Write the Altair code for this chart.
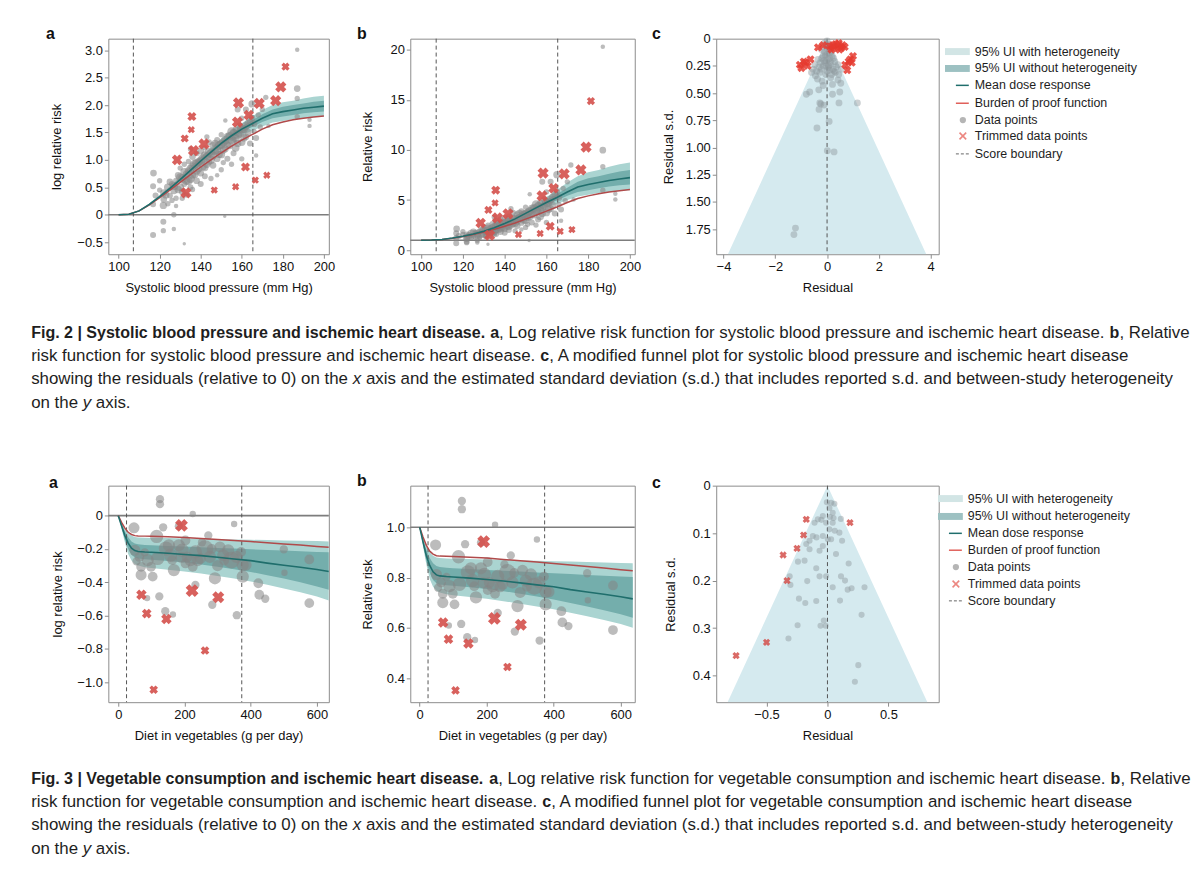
import altair as alt
import pandas as pd

FONT = "Liberation Sans"
TEAL = "#1f6e6c"
RED_LINE = "#b04a4a"
OUTER = "#aad4d1"
INNER = "#74aeac"
LEG_OUTER = "#d2e5e5"
LEG_INNER = "#9dc1c2"
GRAY = "#858585"
RED_X = "#d4504b"
RED_X_C = "#e5392f"
FUNNEL = "#d5eaef"
DASH = "#555555"
REF = "#7d7d7d"

# ---------------- Fig. 2: systolic blood pressure ----------------
sbp_grid = [100, 105, 110, 115, 120, 125, 130, 135, 140, 145, 150, 155, 160, 165, 170, 175, 180, 185, 190, 195, 200]
sbp_mean = [0, 0.01, 0.07, 0.19, 0.33, 0.48, 0.64, 0.81, 0.98, 1.14, 1.30, 1.44, 1.56, 1.66, 1.76, 1.84, 1.88, 1.91, 1.94, 1.96, 1.98]
sbp_bop = [0, 0.01, 0.07, 0.18, 0.31, 0.45, 0.59, 0.73, 0.87, 1.00, 1.13, 1.25, 1.36, 1.46, 1.56, 1.64, 1.69, 1.73, 1.76, 1.78, 1.80]
sbp_outer_lo = [0, 0.01, 0.06, 0.17, 0.30, 0.44, 0.59, 0.75, 0.91, 1.06, 1.21, 1.34, 1.45, 1.53, 1.61, 1.68, 1.71, 1.74, 1.76, 1.78, 1.79]
sbp_outer_hi = [0, 0.01, 0.08, 0.21, 0.36, 0.52, 0.69, 0.87, 1.05, 1.22, 1.39, 1.54, 1.67, 1.79, 1.91, 2.00, 2.05, 2.08, 2.12, 2.15, 2.17]
sbp_inner_lo = [0, 0.01, 0.07, 0.18, 0.32, 0.46, 0.62, 0.79, 0.95, 1.11, 1.27, 1.40, 1.51, 1.60, 1.69, 1.76, 1.79, 1.82, 1.85, 1.87, 1.88]
sbp_inner_hi = [0, 0.01, 0.07, 0.20, 0.34, 0.50, 0.66, 0.83, 1.01, 1.17, 1.33, 1.48, 1.61, 1.72, 1.83, 1.92, 1.97, 2.00, 2.03, 2.06, 2.08]
sbp_boundaries = [107.2, 165.4]

# (systolic bp, log RR, weight)
sbp_points = [
    (117.0, 0.76, 5), (116.8, 0.52, 4), (116.8, 0.19, 4), (116.8, -0.37, 4), (121.8, 0.17, 6),
    (121.8, -0.13, 4), (121.8, -0.29, 3), (126.9, 0.00, 3), (126.9, -0.26, 2), (132.0, -0.53, 1),
    (151.7, -0.03, 1), (187.0, 3.01, 2), (187.0, 2.30, 5), (187.0, 2.12, 3), (187.0, 1.79, 3),
    (193.0, 1.73, 2), (193.0, 1.62, 2), (171.7, 2.14, 3), (165.0, 2.02, 6), (118, 0.35, 4),
    (120, 0.45, 3), (122, 0.40, 6), (124, 0.50, 7), (125, 0.35, 4), (126, 0.56, 4),
    (127, 0.44, 6), (128, 0.62, 4), (128, 0.30, 3), (129, 0.72, 5), (130, 0.50, 7),
    (130, 0.85, 3), (131, 0.66, 8), (132, 0.56, 4), (132, 0.92, 3), (133, 0.74, 6),
    (134, 0.62, 9), (134, 0.97, 3), (135, 0.84, 7), (135, 0.50, 4), (136, 1.06, 5),
    (136, 0.72, 6), (137, 0.92, 10), (138, 0.80, 7), (138, 1.12, 4), (139, 0.96, 8),
    (140, 0.76, 5), (140, 1.16, 5), (141, 1.02, 10), (142, 0.86, 6), (142, 1.22, 3),
    (143, 1.06, 8), (144, 0.96, 5), (144, 1.32, 4), (145, 1.12, 9), (146, 0.90, 5),
    (146, 1.26, 6), (147, 1.16, 7), (148, 1.36, 4), (148, 1.02, 5), (149, 1.26, 9),
    (150, 1.10, 7), (150, 1.46, 3), (151, 1.32, 8), (152, 1.20, 5), (152, 1.72, 2),
    (153, 1.42, 7), (154, 1.26, 6), (155, 1.52, 8), (156, 1.36, 5), (157, 1.56, 4),
    (157, 1.22, 7), (158, 1.46, 9), (159, 1.62, 5), (160, 1.32, 6), (160, 1.76, 3),
    (161, 1.56, 7), (162, 1.92, 4), (162, 1.42, 5), (163, 1.66, 6), (164, 1.30, 4),
    (165, 1.76, 5), (166, 1.52, 3), (167, 1.08, 2), (168, 1.82, 3), (170, 1.92, 3),
    (158, 1.92, 4), (155, 0.92, 3), (150, 0.82, 3), (145, 0.66, 3), (153, 1.02, 4),
    (140, 0.56, 4), (136, 0.46, 3), (133, 0.36, 3), (128, 0.16, 2), (126, 0.26, 3),
    (160, 1.02, 3), (148, 0.72, 2), (173, 1.62, 2), (120, 0.62, 3), (143, 1.42, 3),
    (122, 0.28, 5), (123, 0.36, 6), (125, 0.60, 5), (127, 0.52, 7), (129, 0.46, 6),
    (130, 0.68, 8), (131, 0.42, 5), (132, 0.78, 7), (133, 0.62, 8), (134, 0.80, 6),
    (135, 0.66, 9), (136, 0.88, 8), (137, 0.74, 7), (138, 0.94, 9), (139, 0.84, 6),
    (140, 0.98, 9), (141, 0.88, 7), (142, 1.08, 8), (143, 0.92, 6), (144, 1.14, 9),
    (145, 1.00, 7), (146, 1.08, 8), (147, 1.30, 6), (148, 1.18, 9), (149, 1.10, 6),
    (150, 1.28, 9), (151, 1.18, 6), (152, 1.36, 8), (153, 1.28, 6), (154, 1.44, 7),
    (155, 1.36, 9), (156, 1.50, 6), (157, 1.40, 8), (158, 1.30, 6), (159, 1.48, 8),
    (160, 1.56, 9), (161, 1.40, 6), (162, 1.62, 7), (163, 1.50, 6), (164, 1.72, 5),
    (166, 1.66, 5), (167, 1.40, 4), (169, 1.60, 3), (142, 0.70, 4), (138, 0.62, 5),
    (131, 0.30, 3), (124, 0.20, 3), (156, 1.12, 4), (151, 0.95, 3), (135, 1.20, 3),
]
sbp_trimmed = [
    (181.3, 2.70, 4), (179.0, 2.33, 8), (176.5, 2.08, 8), (168.5, 2.03, 8), (158.4, 2.04, 8),
    (157.9, 1.69, 8), (163.4, 1.82, 7), (135.7, 1.79, 5), (135.4, 1.55, 3), (132.2, 1.39, 4),
    (141.6, 1.29, 8), (136.5, 1.17, 8), (128.5, 1.00, 7), (132.8, 0.40, 8), (146.6, 0.45, 3),
    (157.0, 0.51, 3), (161.8, 0.87, 5), (166.6, 0.63, 3), (172.2, 0.72, 3),
]
# funnel: (residual, residual s.d.)
sbp_resid = [
    (1.17, 0.59), (0.46, 0.59), (-0.28, 0.59), (-0.24, 0.60), (-0.12, 0.61), (-0.31, 0.65),
    (-0.39, 0.82), (0.08, 0.76), (0.01, 1.03), (0.27, 1.04), (-1.22, 1.74), (-1.28, 1.80),
    (-0.80, 0.51), (-0.67, 0.49), (-0.32, 0.47), (0.21, 0.51), (0.49, 0.49), (0.21, 0.42),
    (0.53, 0.41), (0.42, 0.38), (-0.15, 0.43), (-0.19, 0.39), (-0.37, 0.37), (0.14, 0.36),
    (-0.28, 0.31), (-0.60, 0.31), (0.32, 0.31), (-0.03, 0.25), (-0.09, 0.04), (0.04, 0.07),
    (-0.22, 0.10), (0.17, 0.12), (-0.15, 0.16), (0.10, 0.18), (-0.35, 0.19), (0.30, 0.21),
    (-0.09, 0.22), (-0.47, 0.24), (0.42, 0.24), (0.04, 0.27), (-0.22, 0.28), (0.23, 0.28),
    (-0.54, 0.28), (0.55, 0.28), (0.00, 0.02), (0.10, 0.13), (-0.06, 0.15), (0.00, 0.09),
    (-0.12, 0.20), (0.15, 0.22), (0.05, 0.19), (-0.30, 0.26), (0.35, 0.26), (0.00, 0.30),
    (-0.05, 0.33), (0.10, 0.29), (0.05, 0.05), (-0.04, 0.06), (0.08, 0.10), (-0.10, 0.12),
    (0.20, 0.16), (-0.20, 0.18), (0.12, 0.24), (-0.15, 0.25), (0.25, 0.18), (-0.25, 0.22),
    (0.00, 0.14), (0.06, 0.25), (-0.02, 0.20), (0.28, 0.30), (-0.40, 0.30), (0.45, 0.33),
    (-0.45, 0.34), (0.18, 0.33),
]
sbp_resid_trimmed = [
    (-0.35, 0.08), (-0.15, 0.06), (0.10, 0.07), (0.27, 0.085), (0.40, 0.07), (0.55, 0.085),
    (0.68, 0.076), (0.17, 0.10), (0.33, 0.05), (0.48, 0.10), (-0.99, 0.27), (-0.83, 0.22),
    (-0.64, 0.19), (-1.05, 0.24), (1.00, 0.16), (0.83, 0.21), (0.78, 0.29), (0.90, 0.19),
    (0.22, 0.06), (0.60, 0.06), (0.45, 0.04), (-0.75, 0.25), (-0.90, 0.21), (0.70, 0.24),
    (0.95, 0.22),
]
sbp_funnel_sd = [0, 1.98]
sbp_funnel_half = [0, 3.83]

# ---------------- Fig. 3: vegetables ----------------
veg_grid = [0, 10, 20, 30, 40, 50, 60, 80, 100, 150, 200, 250, 300, 350, 400, 450, 500, 550, 600, 636]
veg_mean = [0, -0.06, -0.12, -0.165, -0.195, -0.21, -0.215, -0.218, -0.22, -0.226, -0.233, -0.24, -0.25, -0.26, -0.27, -0.285, -0.298, -0.31, -0.323, -0.335]
veg_bop = [0, -0.04, -0.075, -0.10, -0.113, -0.12, -0.122, -0.123, -0.124, -0.127, -0.131, -0.137, -0.143, -0.149, -0.156, -0.163, -0.17, -0.177, -0.185, -0.19]
veg_outer_hi = [0, -0.04, -0.08, -0.105, -0.12, -0.128, -0.131, -0.133, -0.134, -0.135, -0.137, -0.139, -0.141, -0.143, -0.145, -0.147, -0.149, -0.151, -0.153, -0.155]
veg_outer_lo = [0, -0.08, -0.16, -0.23, -0.27, -0.29, -0.30, -0.31, -0.315, -0.325, -0.335, -0.348, -0.362, -0.378, -0.395, -0.415, -0.437, -0.46, -0.485, -0.51]
veg_inner_hi = [0, -0.05, -0.095, -0.13, -0.155, -0.167, -0.172, -0.176, -0.178, -0.182, -0.186, -0.19, -0.194, -0.198, -0.202, -0.206, -0.21, -0.214, -0.218, -0.22]
veg_inner_lo = [0, -0.07, -0.145, -0.20, -0.235, -0.252, -0.258, -0.262, -0.265, -0.272, -0.282, -0.293, -0.307, -0.322, -0.338, -0.358, -0.378, -0.40, -0.425, -0.445]
veg_boundaries = [25, 373]

veg_points = [
    (126, 0.099, 3), (126, 0.069, 3), (225, 0.01, 2), (350, -0.05, 2), (47.5, -0.073, 5),
    (116, -0.125, 7), (135.6, -0.07, 3), (183, -0.063, 3), (50, -0.208, 5), (64, -0.248, 4),
    (55, -0.275, 3), (69, -0.307, 4), (89, -0.267, 6), (99, -0.307, 4), (69, -0.356, 5),
    (104, -0.366, 4), (119, -0.257, 7), (144, -0.198, 8), (158, -0.238, 7), (168, -0.327, 6),
    (153, -0.178, 6), (183, -0.178, 6), (193, -0.208, 7), (208, -0.248, 5), (218, -0.267, 6),
    (233, -0.218, 7), (248, -0.257, 5), (262, -0.198, 11), (272, -0.119, 3), (277, -0.248, 6),
    (292, -0.376, 6), (307, -0.188, 5), (317, -0.238, 6), (332, -0.208, 6), (342, -0.267, 11),
    (357, -0.248, 6), (371, -0.218, 4), (376, -0.297, 6), (386, -0.297, 5), (376, -0.366, 6),
    (203, -0.287, 4), (163, -0.267, 4), (233, -0.416, 3), (284, -0.535, 3), (358, -0.598, 3),
    (165, -0.594, 2), (142, -0.574, 3), (124, -0.485, 3), (87, -0.495, 2), (423, -0.406, 4),
    (426, -0.475, 4), (444, -0.499, 3), (500, -0.202, 3), (502, -0.343, 2), (577, -0.263, 4),
    (577, -0.525, 4), (203, -0.149, 4), (253, -0.16, 3), (282, -0.20, 4), (225, -0.307, 4),
    (80, -0.22, 3), (300, -0.30, 5), (320, -0.27, 4), (190, -0.25, 5), (240, -0.27, 5),
]
veg_trimmed = [
    (191, -0.059, 8), (223, -0.45, 8), (302, -0.49, 7), (70, -0.475, 5), (86, -0.588, 4),
    (145.5, -0.62, 5), (262, -0.81, 3), (107, -1.045, 3),
]
veg_resid = [
    (-0.005, 0.035), (0.03, 0.036), (0.057, 0.038), (0.016, 0.047), (0.043, 0.057), (-0.038, 0.064),
    (0.02, 0.066), (0.05, 0.068), (0.11, 0.07), (-0.079, 0.071), (-0.05, 0.072), (-0.011, 0.078),
    (0.043, 0.078), (-0.106, 0.078), (0.098, 0.099), (0.016, 0.092), (0.06, 0.095), (-0.038, 0.106),
    (0.003, 0.113), (0.03, 0.113), (-0.12, 0.106), (-0.09, 0.109), (-0.147, 0.116), (-0.174, 0.123),
    (-0.147, 0.134), (-0.065, 0.137), (-0.038, 0.127), (0.12, 0.116), (0.07, 0.144), (-0.242, 0.16),
    (-0.188, 0.158), (0.174, 0.164), (-0.092, 0.174), (-0.065, 0.191), (-0.011, 0.191), (-0.31, 0.191),
    (-0.304, 0.209), (-0.166, 0.201), (0.043, 0.214), (0.111, 0.191), (0.144, 0.20), (0.166, 0.219),
    (0.198, 0.216), (0.304, 0.214), (-0.234, 0.238), (-0.182, 0.247), (-0.092, 0.243), (0.103, 0.242),
    (-0.245, 0.294), (-0.03, 0.284), (-0.057, 0.295), (-0.015, 0.295), (0.28, 0.272), (-0.32, 0.322),
    (0.253, 0.378), (0.225, 0.413),
]
veg_resid_trimmed = [
    (-0.174, 0.071), (0.185, 0.078), (-0.196, 0.104), (-0.25, 0.132), (-0.364, 0.146),
    (-0.332, 0.20), (-0.50, 0.33), (-0.75, 0.358),
]
veg_funnel_sd = [0, 0.456]
veg_funnel_half = [0, 0.82]

legend_labels_1 = ["95% UI with heterogeneity", "95% UI without heterogeneity", "Mean dose response",
                   "Burden of proof function", "Data points", "Trimmed data points", "Score boundary"]
legend_labels_2 = ["95% UI with heterogeneity", "95%  UI without heterogeneity", "Mean dose response",
                   "Burden of proof function", "Data points", "Trimmed data points", "Score boundary"]

caption_fig2 = [
    [("Fig. 2 | Systolic blood pressure and ischemic heart disease.", "b"), (" ", "r"), ("a", "b"),
     (", Log relative risk function for systolic blood pressure and ischemic heart disease. ", "r"),
     ("b", "b"), (", Relative", "r")],
    [("risk function for systolic blood pressure and ischemic heart disease. ", "r"), ("c", "b"),
     (", A modified funnel plot for systolic blood pressure and ischemic heart disease", "r")],
    [("showing the residuals (relative to 0) on the ", "r"), ("x", "i"),
     (" axis and the estimated standard deviation (s.d.) that includes reported s.d. and between-study heterogeneity", "r")],
    [("on the ", "r"), ("y", "i"), (" axis.", "r")],
]
caption_fig3 = [
    [("Fig. 3 | Vegetable consumption and ischemic heart disease.", "b"), (" ", "r"), ("a", "b"),
     (", Log relative risk function for vegetable consumption and ischemic heart disease. ", "r"),
     ("b", "b"), (", Relative", "r")],
    [("risk function for vegetable consumption and ischemic heart disease. ", "r"), ("c", "b"),
     (", A modified funnel plot for vegetable consumption and ischemic heart disease", "r")],
    [("showing the residuals (relative to 0) on the ", "r"), ("x", "i"),
     (" axis and the estimated standard deviation (s.d.) that includes reported s.d. and between-study heterogeneity", "r")],
    [("on the ", "r"), ("y", "i"), (" axis.", "r")],
]

# ---------------- text metrics (Arial / Liberation Sans) ----------------
AR = {' ': 278, '(': 333, ')': 333, ',': 278, '-': 333, '.': 278, '|': 260,
      'A': 667, 'F': 611, 'L': 556, 'R': 722, 'S': 667, 'V': 667,
      'a': 556, 'b': 556, 'c': 500, 'd': 556, 'e': 556, 'f': 278, 'g': 556, 'h': 556, 'i': 222,
      'j': 222, 'k': 500, 'l': 222, 'm': 833, 'n': 556, 'o': 556, 'p': 556, 'q': 556, 'r': 333,
      's': 500, 't': 278, 'u': 556, 'v': 500, 'w': 722, 'x': 500, 'y': 500, 'z': 500}
AB = {' ': 278, '(': 333, ')': 333, ',': 278, '-': 333, '.': 278, '|': 280,
      'A': 722, 'F': 611, 'L': 611, 'R': 722, 'S': 667, 'V': 667,
      'a': 556, 'b': 611, 'c': 556, 'd': 611, 'e': 556, 'f': 333, 'g': 611, 'h': 611, 'i': 278,
      'j': 278, 'k': 556, 'l': 278, 'm': 889, 'n': 611, 'o': 611, 'p': 611, 'q': 611, 'r': 389,
      's': 556, 't': 333, 'u': 611, 'v': 556, 'w': 778, 'x': 556, 'y': 556, 'z': 500}


def em(s, bold):
    t = AB if bold else AR
    return sum(t.get(ch, 556) for ch in s) / 1000.0


CAP_FS = 1150.0 / em("".join(s for s, _ in caption_fig2[2]), False)
CAP_FSB = CAP_FS * 0.95

ONE = pd.DataFrame({"k": [0]})


def caption_layers(lines, x0, ys):
    layers = []
    for segs, yv in zip(lines, ys):
        x = x0
        for text, st in segs:
            bold = st == "b"
            fs = CAP_FSB if bold else CAP_FS
            lead = len(text) - len(text.lstrip(" "))
            body = text.strip(" ")
            if body:
                layers.append(
                    alt.Chart(ONE).mark_text(
                        text=body, font=FONT, fontSize=fs, align="left", baseline="middle",
                        fontWeight="bold" if bold else "normal",
                        fontStyle="italic" if st == "i" else "normal", color="#1e1e1e",
                    ).encode(x=alt.value(x + em(" " * lead, bold) * fs), y=alt.value(yv))
                )
            x += em(text, bold) * fs
    return layers


def panel_label(txt, x, y):
    return alt.Chart(ONE).mark_text(text=txt, font=FONT, fontSize=16, fontWeight="bold",
                                    align="left", baseline="alphabetic", color="#111").encode(
        x=alt.value(x), y=alt.value(y))


XPATH = "M-1,-1L1,1M-1,1L1,-1"


def legend_layers(x0, ys, labels):
    L = []
    L.append(alt.Chart(ONE).mark_rect(color=LEG_OUTER).encode(
        x=alt.value(x0), x2=alt.value(x0 + 25), y=alt.value(ys[0] - 3.5), y2=alt.value(ys[0] + 3.5)))
    L.append(alt.Chart(ONE).mark_rect(color=LEG_INNER).encode(
        x=alt.value(x0), x2=alt.value(x0 + 25), y=alt.value(ys[1] - 3.5), y2=alt.value(ys[1] + 3.5)))
    L.append(alt.Chart(ONE).mark_rule(color=TEAL, strokeWidth=1.5).encode(
        x=alt.value(x0 + 11), x2=alt.value(x0 + 24), y=alt.value(ys[2])))
    L.append(alt.Chart(ONE).mark_rule(color="#e0605a", strokeWidth=1.5).encode(
        x=alt.value(x0 + 11), x2=alt.value(x0 + 24), y=alt.value(ys[3])))
    L.append(alt.Chart(ONE).mark_circle(color="#b5b5b5", opacity=1, size=40).encode(
        x=alt.value(x0 + 18), y=alt.value(ys[4])))
    L.append(alt.Chart(ONE).mark_point(shape=XPATH, filled=False, color="#e5554d", strokeWidth=1.6, size=45).encode(
        x=alt.value(x0 + 18), y=alt.value(ys[5])))
    L.append(alt.Chart(ONE).mark_rule(color="#666", strokeWidth=1, strokeDash=[3, 2]).encode(
        x=alt.value(x0 + 11), x2=alt.value(x0 + 25), y=alt.value(ys[6])))
    for lab, yv in zip(labels, ys):
        L.append(alt.Chart(ONE).mark_text(text=lab, font=FONT, fontSize=12.5, align="left",
                                          baseline="middle", color="#1e1e1e").encode(
            x=alt.value(x0 + 30), y=alt.value(yv)))
    return L


def fmt_expr(spec):
    return ("datum.value == 0 ? '0' : replace(format(datum.value, '%s'), '-', '\u2212')" % spec)


def dose_panel(grid, mean, bop, olo, ohi, ilo, ihi, points, trimmed, bounds, use_exp, ref,
               xdom, ydom, xticks, yticks, yfmt, xtitle, ytitle, w, h, ytx,
               pt_range, tr_range, extra):
    curve = pd.DataFrame(dict(x=grid, mean=mean, bop=bop, olo=olo, ohi=ohi, ilo=ilo, ihi=ihi))
    pts = pd.DataFrame(points, columns=["x", "v", "w"])
    trm = pd.DataFrame(trimmed, columns=["x", "v", "w"])
    f = (lambda c: "exp(datum.%s)" % c) if use_exp else (lambda c: "datum.%s" % c)
    xs = alt.Scale(domain=xdom, nice=False, zero=False)
    ys = alt.Scale(domain=ydom, nice=False, zero=False)
    xax = alt.Axis(values=xticks, title=xtitle, labelFlush=False, labelOverlap=False,
                   titleX=w / 2, titleY=34, titleBaseline="middle", labelExpr=fmt_expr("d"))
    yax = alt.Axis(values=yticks, title=ytitle, labelOverlap=False, titleX=ytx, titleY=h / 2,
                   titleBaseline="middle", labelExpr=yfmt)

    def X(fld):
        return alt.X(fld + ":Q", scale=xs, axis=xax)

    def Y(fld):
        return alt.Y(fld + ":Q", scale=ys, axis=yax)

    cb = alt.Chart(curve).transform_calculate(
        M=f("mean"), B=f("bop"), OL=f("olo"), OH=f("ohi"), IL=f("ilo"), IH=f("ihi"))
    layers = [
        cb.mark_area(color=OUTER, clip=True).encode(x=X("x"), y=Y("OL"), y2="OH:Q"),
        cb.mark_area(color=INNER, clip=True).encode(x=X("x"), y=Y("IL"), y2="IH:Q"),
        alt.Chart(pd.DataFrame({"r": [ref]})).mark_rule(color=REF, strokeWidth=1.6).encode(y=Y("r")),
        alt.Chart(pd.DataFrame({"b": bounds})).mark_rule(color=DASH, strokeWidth=1, strokeDash=[4, 3]).encode(x=X("b")),
        alt.Chart(pts).transform_calculate(V=f("v")).mark_circle(color=GRAY, opacity=0.55, clip=True).encode(
            x=X("x"), y=Y("V"), size=alt.Size("w:Q", scale=alt.Scale(domain=[1, 11], range=pt_range), legend=None)),
        cb.mark_line(color=RED_LINE, strokeWidth=1.5, clip=True).encode(x=X("x"), y=Y("B")),
        cb.mark_line(color=TEAL, strokeWidth=1.6, clip=True).encode(x=X("x"), y=Y("M")),
        alt.Chart(trm).transform_calculate(V=f("v")).mark_point(
            shape="cross", filled=True, angle=45, color=RED_X, opacity=0.9, clip=True).encode(
            x=X("x"), y=Y("V"), size=alt.Size("w:Q", scale=alt.Scale(domain=[1, 8], range=tr_range), legend=None)),
    ]
    return alt.layer(*(layers + extra)).resolve_scale(size="independent").properties(width=w, height=h)


def funnel_panel(fsd, fhalf, resid, resid_trim, xdom, ydom, xticks, yticks, xfmt, yfmt, w, h, ytx,
                 gsize, tsize, red, extra):
    fun = pd.DataFrame(dict(sd=fsd, half=fhalf))
    g = pd.DataFrame(resid, columns=["r", "sd"])
    t = pd.DataFrame(resid_trim, columns=["r", "sd"])
    xs = alt.Scale(domain=xdom, nice=False, zero=False)
    ys = alt.Scale(domain=ydom, nice=False, zero=False, reverse=True)
    xax = alt.Axis(values=xticks, title="Residual", labelFlush=False, labelOverlap=False,
                   titleX=w / 2, titleY=34, titleBaseline="middle", labelExpr=xfmt)
    yax = alt.Axis(values=yticks, title="Residual s.d.", labelOverlap=False, titleX=ytx, titleY=h / 2,
                   titleBaseline="middle", labelExpr=yfmt)

    def X(fld):
        return alt.X(fld + ":Q", scale=xs, axis=xax)

    def Y(fld):
        return alt.Y(fld + ":Q", scale=ys, axis=yax)

    layers = [
        alt.Chart(fun).transform_calculate(lo="-datum.half").mark_area(
            orient="horizontal", color=FUNNEL, clip=True).encode(y=Y("sd"), x=X("lo"), x2="half:Q"),
        alt.Chart(pd.DataFrame({"z": [0]})).mark_rule(color=DASH, strokeWidth=1, strokeDash=[4, 3]).encode(x=X("z")),
        alt.Chart(g).mark_circle(color="#8f9a9d", opacity=0.45, size=gsize).encode(x=X("r"), y=Y("sd")),
        alt.Chart(t).mark_point(shape="cross", filled=True, angle=45, color=red, opacity=0.85,
                                size=tsize).encode(x=X("r"), y=Y("sd")),
    ]
    return alt.layer(*(layers + extra)).properties(width=w, height=h)


WA, WB, WC = 222, 226, 224
H1, H2 = 217, 218
SPC = 82
COL_A = 107.7
COL_B = COL_A + WA + SPC
COL_C = COL_B + WB + SPC
TOP1, TOP2 = 35, 485

anchor = alt.Chart(ONE).mark_rule(opacity=0, strokeWidth=0.5).encode(
    x=alt.value(8 - COL_A), x2=alt.value(9 - COL_A), y=alt.value(8 - TOP1))

cap_x0 = 30 - COL_A

a1 = dose_panel(sbp_grid, sbp_mean, sbp_bop, sbp_outer_lo, sbp_outer_hi, sbp_inner_lo, sbp_inner_hi,
                sbp_points, sbp_trimmed, sbp_boundaries, False, 0,
                [95, 202.4], [-0.72, 3.21], [100, 120, 140, 160, 180, 200],
                [-0.5, 0, 0.5, 1.0, 1.5, 2.0, 2.5, 3.0], fmt_expr(".1f"),
                "Systolic blood pressure (mm Hg)", "log relative risk", WA, H1, -52,
                [12, 95], [25, 130],
                [anchor, panel_label("a", 45 - COL_A, 0)] +
                caption_layers(caption_fig2, cap_x0, [331 - TOP1, 354.5 - TOP1, 378 - TOP1, 401.5 - TOP1]))

b1 = dose_panel(sbp_grid, sbp_mean, sbp_bop, sbp_outer_lo, sbp_outer_hi, sbp_inner_lo, sbp_inner_hi,
                sbp_points, sbp_trimmed, sbp_boundaries, True, 1,
                [94.8, 202.3], [-0.4, 21.1], [100, 120, 140, 160, 180, 200],
                [0, 5, 10, 15, 20], fmt_expr("d"),
                "Systolic blood pressure (mm Hg)", "Relative risk", WB, H1, -43,
                [12, 95], [25, 130],
                [panel_label("b", 358 - COL_B, 0)])

c1 = funnel_panel(sbp_funnel_sd, sbp_funnel_half, sbp_resid, sbp_resid_trimmed,
                  [-4.28, 4.31], [0, 1.98], [-4, -2, 0, 2, 4],
                  [0, 0.25, 0.5, 0.75, 1.0, 1.25, 1.5, 1.75], fmt_expr("d"), fmt_expr(".2f"),
                  WC, H1, -48, 48, 70, RED_X_C,
                  [panel_label("c", 655 - COL_C, 0)] +
                  legend_layers(950 - COL_C, [48 - TOP1, 65 - TOP1, 82 - TOP1, 100 - TOP1, 117 - TOP1, 133 - TOP1, 151 - TOP1],
                                legend_labels_1))

a2 = dose_panel(veg_grid, veg_mean, veg_bop, veg_outer_lo, veg_outer_hi, veg_inner_lo, veg_inner_hi,
                veg_points, veg_trimmed, veg_boundaries, False, 0,
                [-30, 636], [-1.12, 0.18], [0, 200, 400, 600],
                [-1.0, -0.8, -0.6, -0.4, -0.2, 0], fmt_expr(".1f"),
                "Diet in vegetables (g per day)", "log relative risk", WA, H2, -51,
                [14, 290], [40, 170],
                [panel_label("a", 48 - COL_A, 2)] +
                caption_layers(caption_fig3, cap_x0, [780 - TOP2, 803.5 - TOP2, 827 - TOP2, 850.5 - TOP2]))

b2 = dose_panel(veg_grid, veg_mean, veg_bop, veg_outer_lo, veg_outer_hi, veg_inner_lo, veg_inner_hi,
                veg_points, veg_trimmed, veg_boundaries, True, 1,
                [-28, 642], [0.305, 1.165], [0, 200, 400, 600],
                [0.4, 0.6, 0.8, 1.0], fmt_expr(".1f"),
                "Diet in vegetables (g per day)", "Relative risk", WB, H2, -43,
                [14, 290], [40, 170],
                [panel_label("b", 358 - COL_B, 0)])

c2 = funnel_panel(veg_funnel_sd, veg_funnel_half, veg_resid, veg_resid_trimmed,
                  [-0.913, 0.913], [0, 0.456], [-0.5, 0, 0.5],
                  [0, 0.1, 0.2, 0.3, 0.4], fmt_expr(".1f"), fmt_expr(".1f"),
                  WC, H2, -46, 38, 55, RED_X,
                  [panel_label("c", 655 - COL_C, 2)] +
                  legend_layers(943 - COL_C, [498 - TOP2, 516 - TOP2, 533 - TOP2, 550 - TOP2, 567 - TOP2, 584 - TOP2, 601 - TOP2],
                                legend_labels_2))

chart = alt.concat(a1, b1, c1, a2, b2, c2, columns=3, bounds="flush",
                   spacing={"row": TOP2 - TOP1 - H1, "column": SPC}).properties(
    padding=0, background="white"
).configure_view(stroke="#8c8c8c", strokeWidth=1).configure_axis(
    domain=False, grid=False, ticks=True, tickColor="#8c8c8c", tickSize=4, tickWidth=1,
    labelFont=FONT, labelFontSize=13, labelColor="#111", labelPadding=2,
    titleFont=FONT, titleFontSize=13, titleFontWeight="normal", titleColor="#111",
)

chart.save("out.html", embed_options={"renderer": "svg", "actions": False})
